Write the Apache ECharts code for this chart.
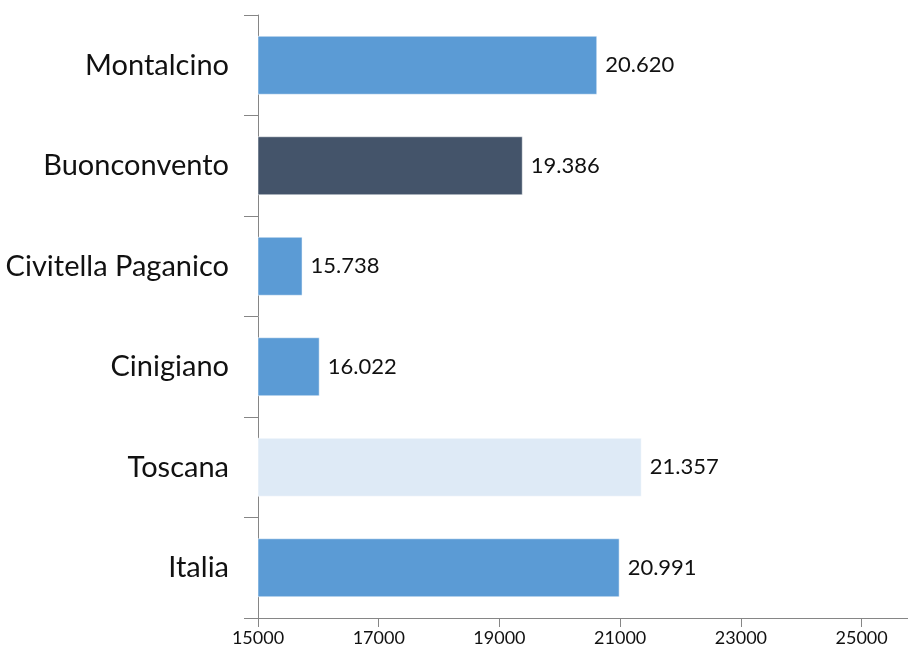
<!DOCTYPE html>
<html>
<head>
<meta charset="utf-8">
<script src="https://cdn.jsdelivr.net/npm/echarts@6/dist/echarts.min.js"></script>
<style>
  html, body { margin: 0; padding: 0; background: #fff; overflow: hidden; }
  #chart { width: 930px; height: 655px; }
</style>
</head>
<body>
<div id="chart"></div>
<script>
// categories, top to bottom
var comuni = ['Montalcino', 'Buonconvento', 'Civitella Paganico', 'Cinigiano', 'Toscana', 'Italia'];
var redditi = [20620, 19386, 15738, 16022, 21357, 20991];
var xTicks = [15000, 17000, 19000, 21000, 23000, 25000];

var barColors = ['#5B9BD5', '#44546A', '#5B9BD5', '#5B9BD5', '#DEEAF6', '#5B9BD5'];

function formatIt(v) {
  // separatore migliaia con il punto
  return String(v).replace(/\B(?=(\d{3})+(?!\d))/g, '.');
}

// la category axis parte dal basso: invertiamo l'ordine
var cats = comuni.slice().reverse();
var barData = redditi.map(function (v, i) {
  return { value: v, itemStyle: { color: barColors[i] } };
}).reverse();

var chart = echarts.init(document.getElementById('chart'));
var option = {
  animation: false,
  grid: {
    left: 258,
    right: 8,
    top: 15,
    bottom: 37,
    containLabel: false
  },
  xAxis: {
    type: 'value',
    position: 'bottom',
    min: xTicks[0],
    max: 26000,
    interval: 2000,
    splitLine: { show: false },
    axisLine: { show: true, lineStyle: { color: '#868686', width: 1 } },
    axisTick: { show: true, length: 9, lineStyle: { color: '#868686' } },
    axisLabel: {
      fontFamily: 'Lato, sans-serif',
      fontSize: 18,
      color: '#111',
      margin: 11,
      showMaxLabel: false,
      formatter: function (v) { return String(v); }
    }
  },
  yAxis: {
    type: 'category',
    data: cats,
    axisLine: { show: true, lineStyle: { color: '#868686', width: 1 } },
    axisTick: { show: true, interval: 0, length: 14, lineStyle: { color: '#868686' } },
    axisLabel: {
      fontFamily: 'Lato, sans-serif',
      fontSize: 29,
      color: '#111',
      margin: 29
    }
  },
  series: [
    {
      type: 'bar',
      barWidth: 59,
      data: barData,
      itemStyle: { borderColor: 'rgba(255,255,255,0.5)', borderWidth: 1 },
      label: {
        show: true,
        position: 'right',
        distance: 8,
        fontFamily: 'Lato, sans-serif',
        fontSize: 22,
        color: '#111',
        formatter: function (p) { return formatIt(p.value); }
      }
    }
  ]
};
chart.setOption(option);
</script>
</body>
</html>
